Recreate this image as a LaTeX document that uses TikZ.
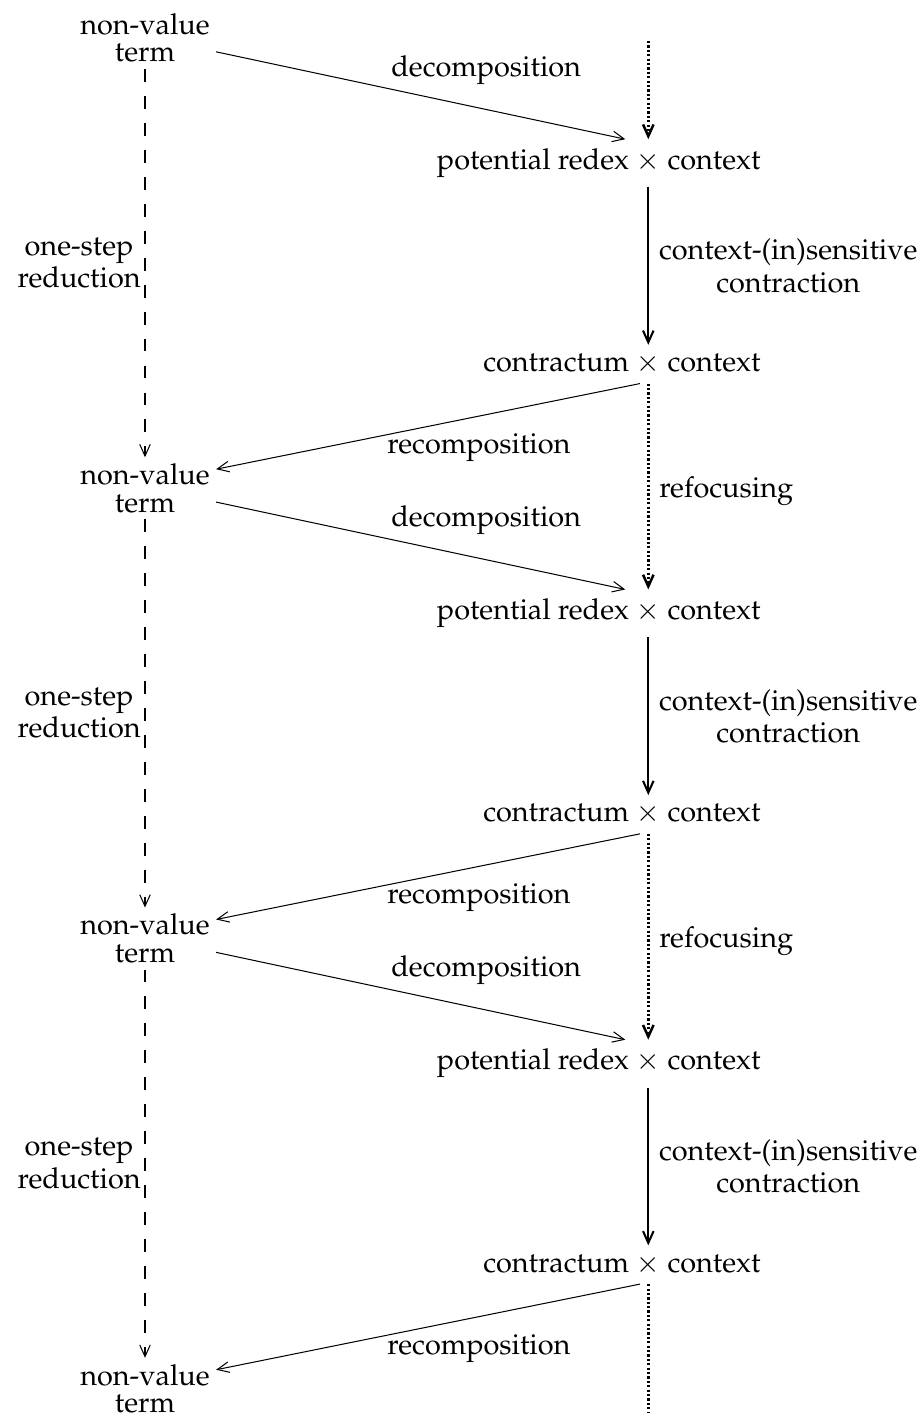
\documentclass[tikz,border=0pt]{standalone}
\usepackage[T1]{fontenc}
\usepackage{mathpazo}
\usepackage{tikz}
\usetikzlibrary{arrows,arrows.meta,positioning}

\begin{document}
\begin{tikzpicture}[x=0.012cm, y=-0.012cm, font=\fontsize{9.85}{11}\selectfont]
\tikzstyle{term}=[align=center, inner sep=2pt, font=\fontsize{9.85}{9.4}\selectfont]
\tikzstyle{pair}=[inner sep=3pt, on grid]
\tikzstyle{lbl}=[align=center]
\tikzstyle{connect}=[-{Straight Barb[length=4pt, width=3.6pt]}, line width=0.35pt]
\tikzstyle{contract}=[connect, line width=0.7pt]
\tikzstyle{refocus}=[connect, line width=0.85pt, dash pattern=on 0.75pt off 0.75pt]
\tikzstyle{reduce}=[connect, dash pattern=on 4.4pt off 4.8pt]

  \useasboundingbox (0,0) rectangle (922,1421);

  \node[term] (nv0) at (145,38)             {non-value\\term};
  \node[term] (nv1) [on grid, below=5.4cm of nv0] {non-value\\term};
  \node[term] (nv2) [on grid, below=5.4cm of nv1] {non-value\\term};
  \node[term] (nv3) [on grid, below=5.4cm of nv2] {non-value\\term};

  \node[pair] (p1) [below right=1.5cm and 6.036cm of nv0] {\llap{potential redex }$\times$\rlap{ context}};
  \node[pair] (c1) [below=2.412cm of p1] {\llap{contractum }$\times$\rlap{ context}};
  \node[pair] (p2) [below=5.4cm of p1]   {\llap{potential redex }$\times$\rlap{ context}};
  \node[pair] (c2) [below=5.4cm of c1]   {\llap{contractum }$\times$\rlap{ context}};
  \node[pair] (p3) [below=5.4cm of p2]   {\llap{potential redex }$\times$\rlap{ context}};
  \node[pair] (c3) [below=5.4cm of c2]   {\llap{contractum }$\times$\rlap{ context}};

  \coordinate [on grid, above=1.464cm of p1] (top);
  \coordinate [on grid, below=1.776cm of c3] (bot);

  \path (top) edge [refocus] (p1.north);
  \path (c1.south) edge [refocus] node [lbl, midway, right, yshift=-1.5pt] {refocusing} (p2.north);
  \path (c2.south) edge [refocus] node [lbl, midway, right, yshift=-1.5pt] {refocusing} (p3.north);
  \path (c3.south) edge [refocus, -] (bot);

  \path (p1.south) edge [contract] node [lbl, midway, right] {context-(in)sensitive\\contraction} (c1.north);
  \path (p2.south) edge [contract] node [lbl, midway, right] {context-(in)sensitive\\contraction} (c2.north);
  \path (p3.south) edge [contract] node [lbl, midway, right] {context-(in)sensitive\\contraction} (c3.north);

  \path (nv0.south) edge [reduce] node [lbl, midway, left, xshift=2pt] {one-step\\reduction} (nv1.north);
  \path (nv1.south) edge [reduce] node [lbl, midway, left, xshift=2pt] {one-step\\reduction} (nv2.north);
  \path (nv2.south) edge [reduce] node [lbl, midway, left, xshift=2pt] {one-step\\reduction} (nv3.north);

  \path (nv0.-11) edge [connect] node [lbl, pos=0.66, above=5pt] {decomposition} ([xshift=-0.276cm]p1.north);
  \path (nv1.-11) edge [connect] node [lbl, pos=0.66, above=5pt] {decomposition} ([xshift=-0.276cm]p2.north);
  \path (nv2.-11) edge [connect] node [lbl, pos=0.66, above=5pt] {decomposition} ([xshift=-0.276cm]p3.north);

  \path ([xshift=-0.1cm]c1.south) edge [connect] node [lbl, pos=0.38, below=2.5pt] {recomposition} (nv1.15);
  \path ([xshift=-0.1cm]c2.south) edge [connect] node [lbl, pos=0.38, below=2.5pt] {recomposition} (nv2.15);
  \path ([xshift=-0.1cm]c3.south) edge [connect] node [lbl, pos=0.38, below=2.5pt] {recomposition} (nv3.15);

\end{tikzpicture}
\end{document}
